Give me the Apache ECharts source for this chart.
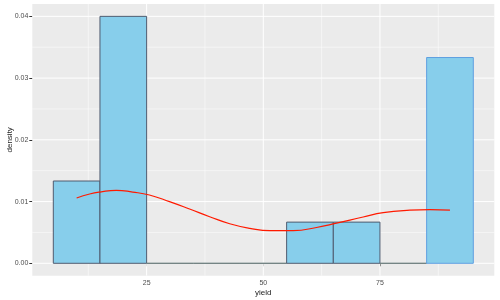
<!DOCTYPE html>
<html><head><meta charset="utf-8">
<script src="https://cdn.jsdelivr.net/npm/echarts@6/dist/echarts.min.js"></script>
<style>html,body{margin:0;padding:0;background:#fff}#c{width:500px;height:300px}</style>
</head><body><div id="c"></div>
<script>
// Histogram bins (yield) and their densities
const binStart = [5, 15, 25, 35, 45, 55, 65, 75, 85];
const binEnd   = [15, 25, 35, 45, 55, 65, 75, 85, 95];
const binDensity = [0.01333, 0.04, 0, 0, 0, 0.00667, 0.00667, 0, 0.03333];
// Density curve
const densX = [10, 12.8, 15, 18.5, 22, 25.6, 29.9, 34.2, 38.5, 42.8, 47.1, 51.4, 56.4, 61.4, 65.7, 71.4, 75.7, 81.4, 85.7, 90];
const densY = [0.01057, 0.01122, 0.01154, 0.01182, 0.01154, 0.01106, 0.00998, 0.00879, 0.00755, 0.00641, 0.00567, 0.00528, 0.0053, 0.0058, 0.0065, 0.0075, 0.0082, 0.0086, 0.0087, 0.0086];
// Tick labels
const xTicks = [25, 50, 75];
const xMinor = [12.5, 37.5, 62.5, 87.5];
const yTicks = [0, 0.01, 0.02, 0.03, 0.04];
const yMinor = [0.005, 0.015, 0.025, 0.035];

const X_MIN = 0.5, X_MAX = 99.5, Y_MIN = -0.002, Y_MAX = 0.042;
const strokeColors = ['#4f5b6e', '#4f5b6e', '#6e8080', '#6e8080', '#6e8080', '#4f5b6e', '#4f5b6e', '#6e8080', '#5f9fe0'];

const gridData = [];
xTicks.forEach(v => gridData.push(['x', v, 1]));
xMinor.forEach(v => gridData.push(['x', v, 0.5]));
yTicks.forEach(v => gridData.push(['y', v, 1]));
yMinor.forEach(v => gridData.push(['y', v, 0.5]));

const chart = echarts.init(document.getElementById('c'), null, {renderer: 'canvas'});
const font = 'Liberation Sans, Arial, sans-serif';
chart.setOption({
  animation: false,
  grid: {left: 32.3, right: 5.7, top: 4, bottom: 24.35, show: true, backgroundColor: '#EBEBEB', borderWidth: 0,
    containLabel: false, outerBoundsMode: 'none'},
  xAxis: {
    type: 'value', min: X_MIN, max: X_MAX,
    splitLine: {show: false}, axisLine: {show: false},
    axisTick: {show: true, customValues: xTicks, length: 3, lineStyle: {color: '#333333', width: 1}},
    axisLabel: {customValues: xTicks, color: '#4d4d4d', fontSize: 7, margin: 4, fontFamily: font},
    name: 'yield', nameLocation: 'middle', nameGap: 13, nameMoveOverlap: false,
    nameTextStyle: {color: '#1a1a1a', fontSize: 8, fontFamily: font}
  },
  yAxis: {
    type: 'value', min: Y_MIN, max: Y_MAX,
    splitLine: {show: false}, axisLine: {show: false},
    axisTick: {show: true, customValues: yTicks, length: 3, lineStyle: {color: '#333333', width: 1}},
    axisLabel: {customValues: yTicks, color: '#4d4d4d', fontSize: 7, margin: 4, fontFamily: font,
      formatter: v => Number(v).toFixed(2)},
    name: 'density', nameLocation: 'middle', nameGap: 19, nameMoveOverlap: false,
    nameTextStyle: {color: '#1a1a1a', fontSize: 8, fontFamily: font}
  },
  series: [
    {
      type: 'custom', z: 1, silent: true,
      data: gridData.map(d => [d[1], 0]),
      renderItem: function (params, api) {
        const g = gridData[params.dataIndex];
        let p0, p1;
        if (g[0] === 'x') { p0 = api.coord([g[1], Y_MIN]); p1 = api.coord([g[1], Y_MAX]); }
        else { p0 = api.coord([X_MIN, g[1]]); p1 = api.coord([X_MAX, g[1]]); }
        return {type: 'line', shape: {x1: p0[0], y1: p0[1], x2: p1[0], y2: p1[1]},
          style: {stroke: '#ffffff', lineWidth: g[2]}};
      }
    },
    {
      type: 'custom', z: 2, silent: true,
      data: binStart.map((s, i) => [s, binEnd[i], binDensity[i]]),
      encode: {x: [0, 1], y: 2},
      renderItem: function (params, api) {
        const i = params.dataIndex;
        const p0 = api.coord([api.value(0), api.value(2)]);
        const p1 = api.coord([api.value(1), 0]);
        return {type: 'rect', shape: {x: p0[0], y: p0[1], width: p1[0] - p0[0], height: p1[1] - p0[1]},
          style: {fill: '#87CEEB', stroke: strokeColors[i], lineWidth: 1}};
      }
    },
    {
      type: 'line', z: 3, silent: true, smooth: true, symbol: 'none',
      data: densX.map((x, i) => [x, densY[i]]),
      lineStyle: {color: '#ff1a00', width: 1.2}
    }
  ]
});
</script></body></html>
